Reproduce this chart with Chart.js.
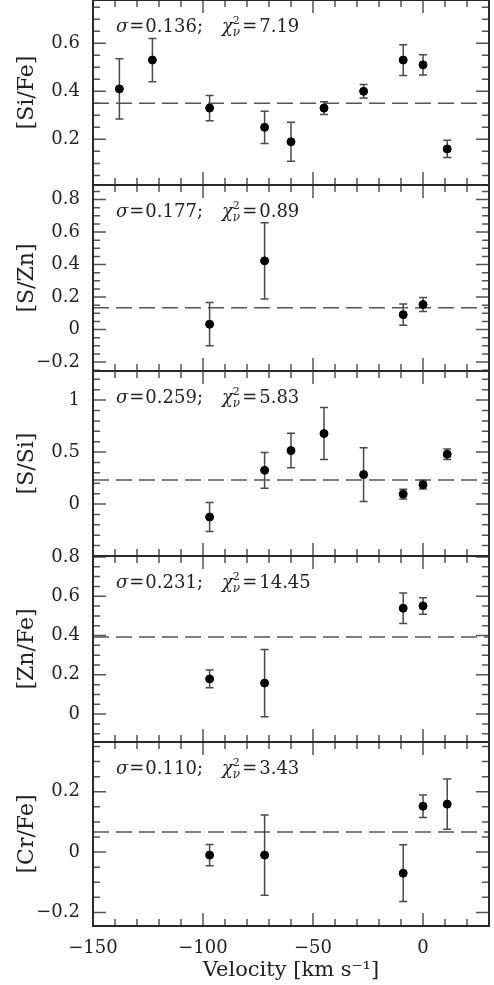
<!DOCTYPE html>
<html>
<head>
<meta charset="utf-8">
<script src="https://cdn.jsdelivr.net/npm/chart.js@4.4.1/dist/chart.umd.min.js"></script>
<style>
  html, body { margin: 0; padding: 0; background: #fff; }
  body { width: 494px; height: 985px; position: relative; overflow: hidden; }
  canvas { position: absolute; left: 0; }
</style>
</head>
<body>
<script>
// shared velocity axis
const xMin = -150, xMax = 30;
const xTicks = [-150, -100, -50, 0];
const xMinorStep = 10;

// [Si/Fe]
const velSiFe = [-138, -123, -97, -72, -60, -45, -27, -9, 0, 11];
const siFe = [0.41, 0.53, 0.33, 0.25, 0.19, 0.33, 0.40, 0.53, 0.51, 0.16];
const siFeErr = [0.125, 0.09, 0.053, 0.067, 0.081, 0.027, 0.028, 0.064, 0.042, 0.036];
const siFeMean = 0.35;
const siFeTicks = [0.2, 0.4, 0.6];

// [S/Zn]
const velSZn = [-97, -72, -9, 0];
const sZn = [0.033, 0.423, 0.092, 0.154];
const sZnErr = [0.133, 0.235, 0.066, 0.043];
const sZnMean = 0.135;
const sZnTicks = [-0.2, 0, 0.2, 0.4, 0.6, 0.8];

// [S/Si]
const velSSi = [-97, -72, -60, -45, -27, -9, 0, 11];
const sSi = [-0.125, 0.325, 0.514, 0.678, 0.283, 0.096, 0.186, 0.479];
const sSiErr = [0.14, 0.172, 0.166, 0.25, 0.258, 0.047, 0.041, 0.05];
const sSiMean = 0.232;
const sSiTicks = [0, 0.5, 1];

// [Zn/Fe]
const velZnFe = [-97, -72, -9, 0];
const znFe = [0.179, 0.158, 0.539, 0.551];
const znFeErr = [0.045, 0.171, 0.078, 0.042];
const znFeMean = 0.392;
const znFeTicks = [0, 0.2, 0.4, 0.6, 0.8];

// [Cr/Fe]
const velCrFe = [-97, -72, -9, 0, 11];
const crFe = [-0.01, -0.01, -0.07, 0.152, 0.159];
const crFeErr = [0.035, 0.133, 0.094, 0.037, 0.083];
const crFeMean = 0.067;
const crFeTicks = [-0.2, 0, 0.2];

// fit statistics shown in each panel
const sigmas = ['0.136', '0.177', '0.259', '0.231', '0.110'];
const chis = ['7.19', '0.89', '5.83', '14.45', '3.43'];

const FONT = 'DejaVu Serif';
const PAD = 30;
const X_AXIS_H = 58;
const Y_AXIS_W = 93;
const panelEdges = [0, 185, 371, 556, 742, 926];

const panels = [
    { label: '[Si/Fe]', vel: velSiFe, val: siFe, err: siFeErr, mean: siFeMean, ticks: siFeTicks, min: 0.01, max: 0.78, minor: 0.05 },
    { label: '[S/Zn]', vel: velSZn, val: sZn, err: sZnErr, mean: sZnMean, ticks: sZnTicks, min: -0.255, max: 0.89, minor: 0.05 },
    { label: '[S/Si]', vel: velSSi, val: sSi, err: sSiErr, mean: sSiMean, ticks: sSiTicks, min: -0.5, max: 1.28, minor: 0.1 },
    { label: '[Zn/Fe]', vel: velZnFe, val: znFe, err: znFeErr, mean: znFeMean, ticks: znFeTicks, min: -0.142, max: 0.805, minor: 0.05 },
    { label: '[Cr/Fe]', vel: velCrFe, val: crFe, err: crFeErr, mean: crFeMean, ticks: crFeTicks, min: -0.245, max: 0.365, minor: 0.05 }
];

function fmt(v) {
    if (Math.abs(v) < 1e-9) return '0';
    return (v < 0 ? '\u2212' : '') + String(Math.abs(v));
}

function minorValues(min, max, step) {
    const out = [];
    for (let k = Math.ceil(min / step - 1e-9); k * step <= max + 1e-9; k++) {
        out.push(Math.round(k * step * 1000) / 1000);
    }
    return out;
}

// error bars, frame, inward ticks and the sigma/chi2 note
const panelDecor = {
    id: 'panelDecor',
    beforeDatasetsDraw(chart) {
        const { ctx, scales: { x, y } } = chart;
        const pts = chart.data.datasets[0].data;
        ctx.save();
        ctx.strokeStyle = '#4a4a4a';
        ctx.lineWidth = 1.5;
        pts.forEach(p => {
            const px = x.getPixelForValue(p.x);
            const y1 = y.getPixelForValue(p.y - p.e);
            const y2 = y.getPixelForValue(p.y + p.e);
            ctx.beginPath();
            ctx.moveTo(px, y1); ctx.lineTo(px, y2);
            ctx.moveTo(px - 4, y1); ctx.lineTo(px + 4, y1);
            ctx.moveTo(px - 4, y2); ctx.lineTo(px + 4, y2);
            ctx.stroke();
        });
        ctx.restore();
    },
    afterDraw(chart, args, opts) {
        const { ctx, chartArea: a, scales: { x, y } } = chart;
        const p = panels[opts.idx];
        ctx.save();
        // inward ticks on all sides
        ctx.strokeStyle = '#555';
        ctx.lineWidth = 1.5;
        ctx.beginPath();
        minorValues(xMin, xMax, xMinorStep).forEach(v => {
            const len = xTicks.includes(v) ? 13 : 7;
            const px = x.getPixelForValue(v);
            ctx.moveTo(px, a.bottom); ctx.lineTo(px, a.bottom - len);
            ctx.moveTo(px, a.top); ctx.lineTo(px, a.top + len);
        });
        minorValues(p.min, p.max, p.minor).forEach(v => {
            const len = p.ticks.some(t => Math.abs(t - v) < 1e-6) ? 13 : 7;
            const py = y.getPixelForValue(v);
            ctx.moveTo(a.left, py); ctx.lineTo(a.left + len, py);
            ctx.moveTo(a.right, py); ctx.lineTo(a.right - len, py);
        });
        ctx.stroke();
        // frame
        ctx.strokeStyle = '#2a2a2a';
        ctx.lineWidth = 2;
        ctx.strokeRect(a.left, a.top, a.right - a.left, a.bottom - a.top);
        // sigma; chi2_nu note
        ctx.fillStyle = '#222';
        ctx.textBaseline = 'alphabetic';
        let tx = a.left + 23;
        const ty = a.top + 32;
        const put = (txt, font, dy = 0) => {
            ctx.font = font;
            ctx.fillText(txt, tx, ty + dy);
            return ctx.measureText(txt).width;
        };
        tx += put('\u03c3', 'italic 18px ' + FONT) + 1;
        tx += put('=', '18px ' + FONT) + 1;
        tx += put(sigmas[opts.idx] + ';', '18px ' + FONT) + 19;
        tx += put('\u03c7', 'italic 18px ' + FONT);
        const w2 = put('2', '11px ' + FONT, -8);
        const wn = put('\u03bd', 'italic 12px ' + FONT, 4);
        tx += Math.max(w2, wn) + 2;
        tx += put('=', '18px ' + FONT) + 2;
        put(chis[opts.idx], '18px ' + FONT);
        ctx.restore();
    }
};

panels.forEach((p, i) => {
    const last = i === panels.length - 1;
    const top = panelEdges[i], bottom = panelEdges[i + 1];
    const h = (bottom - top) + PAD + (last ? X_AXIS_H : PAD);
    const canvas = document.createElement('canvas');
    canvas.width = 494;
    canvas.height = h;
    canvas.style.width = '494px';
    canvas.style.height = h + 'px';
    canvas.style.top = (top - PAD) + 'px';
    document.body.appendChild(canvas);

    new Chart(canvas, {
        type: 'scatter',
        data: {
            datasets: [{
                data: p.vel.map((v, k) => ({ x: v, y: p.val[k], e: p.err[k] })),
                backgroundColor: '#000',
                borderColor: '#000',
                pointRadius: 4,
                order: 0
            }, {
                type: 'line',
                data: [{ x: xMin, y: p.mean }, { x: xMax, y: p.mean }],
                borderColor: '#555',
                borderWidth: 1.5,
                borderDash: [16, 7],
                pointRadius: 0,
                order: 1
            }]
        },
        options: {
            responsive: false,
            maintainAspectRatio: false,
            animation: false,
            layout: { padding: { top: PAD, bottom: last ? 0 : PAD, left: 0, right: 1 } },
            plugins: { legend: { display: false }, tooltip: { enabled: false }, panelDecor: { idx: i } },
            scales: {
                x: {
                    type: 'linear', min: xMin, max: xMax, display: last,
                    grid: { display: false, drawTicks: false },
                    border: { display: false },
                    afterBuildTicks: s => { s.ticks = xTicks.map(v => ({ value: v })); },
                    afterFit: s => { s.height = last ? X_AXIS_H : 0; },
                    ticks: { autoSkip: false, maxRotation: 0, padding: 12, color: '#222',
                        font: { family: FONT, size: 18 }, callback: v => fmt(v) },
                    title: { display: true, text: 'Velocity [km s\u207b\u00b9]', color: '#222',
                        font: { family: FONT, size: 21 }, padding: 1 }
                },
                y: {
                    type: 'linear', min: p.min, max: p.max,
                    grid: { display: false, drawTicks: false },
                    border: { display: false },
                    afterBuildTicks: s => { s.ticks = p.ticks.map(v => ({ value: v })); },
                    afterFit: s => { s.width = Y_AXIS_W; },
                    ticks: { autoSkip: false, padding: 13, color: '#222',
                        font: { family: FONT, size: 18 }, callback: v => fmt(v) },
                    title: { display: true, text: p.label, color: '#222',
                        font: { family: FONT, size: 22 }, padding: { top: 14, bottom: 0 } }
                }
            }
        },
        plugins: [panelDecor]
    });
});
</script>
</body>
</html>
